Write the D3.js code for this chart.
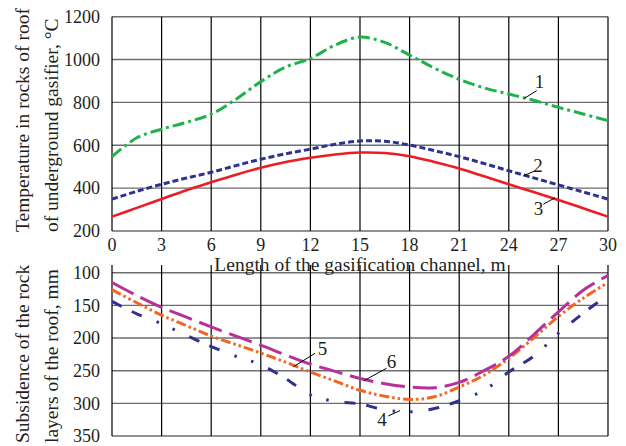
<!DOCTYPE html>
<html>
<head>
<meta charset="utf-8">
<script src="https://cdnjs.cloudflare.com/ajax/libs/d3/7.8.5/d3.min.js"></script>
<style>
  body { margin: 0; background: #fff; }
  svg text { font-family: "Liberation Serif", "Times New Roman", serif; fill: #231f20; }
</style>
</head>
<body>
<div class="chart-container"></div>
<script>
// Data
const xs = [0, 1.5, 3, 4.5, 6, 7.5, 9, 10.5, 12, 13.5, 15, 16.5, 18, 19.5, 21, 22.5, 24, 25.5, 27, 28.5, 30];
const xTicks = [0, 3, 6, 9, 12, 15, 18, 21, 24, 27, 30];

// top panel: temperature, °C
const temp1 = [547, 635, 675, 707, 745, 815, 897, 965, 1005, 1068, 1105, 1080, 1021, 960, 908, 868, 839, 810, 777, 746, 715];
const temp2 = [349, 385, 418, 447, 474, 505, 535, 560, 582, 605, 620, 619, 601, 575, 547, 515, 481, 448, 415, 382, 349];
const temp3 = [267, 308, 349, 390, 427, 463, 495, 522, 542, 557, 566, 564, 549, 522, 492, 455, 418, 382, 345, 306, 267];
const tempTicks = [200, 400, 600, 800, 1000, 1200];

// bottom panel: subsidence, mm
const sub4 = [144, 163, 178, 196, 213, 228, 241, 262, 287, 297, 301, 310, 313, 308, 296, 280, 252, 228, 193, 162, 134];
const sub5 = [126, 146, 165, 181, 197, 210, 223, 237, 252, 266, 280, 289, 294, 290, 275, 257, 231, 200, 167, 139, 115];
const sub6 = [115, 135, 153, 168, 183, 197, 211, 226, 240, 251, 262, 270, 275, 276, 268, 250, 228, 195, 160, 127, 104];
const subTicks = [100, 150, 200, 250, 300, 350];

// curve labels: [label, text x, text y, leader x1, y1, x2, y2] in data units
const topLabels = [
    ['1', 25.85, 867, 24.94, 819, 25.69, 855],
    ['2', 25.77, 477, 24.88, 457, 25.59, 481],
    ['3', 25.8, 275, 26.09, 325, 26.8, 355]
];
const bottomLabels = [
    ['5', 12.73, 226, 10.97, 244, 12.28, 223.4],
    ['6', 16.9, 246.3, 15.24, 265.3, 16.61, 246.3],
    ['4', 16.33, 335, 16.71, 319.3, 17.42, 311.2]
];

const width = 626, height = 446;

const svg = d3.select('.chart-container')
    .append('svg')
    .attr('width', width)
    .attr('height', height);

const xScale = d3.scaleLinear().domain([0, 30]).range([112, 608]);
const yTop = d3.scaleLinear().domain([200, 1200]).range([231, 16.7]);
const yBot = d3.scaleLinear().domain([100, 350]).range([272.7, 436]);

function drawGrid(yScale, ticks, vTop) {
    const g = svg.append('g').attr('class', 'grid');
    g.selectAll('.h')
        .data(ticks)
        .enter()
        .append('line')
        .attr('x1', xScale(0))
        .attr('x2', xScale(30))
        .attr('y1', d => yScale(d))
        .attr('y2', d => yScale(d))
        .style('stroke', '#6d6e71')
        .style('stroke-width', 1.4);
    const yr = yScale.range();
    g.selectAll('.v')
        .data(xTicks)
        .enter()
        .append('line')
        .attr('x1', d => xScale(d))
        .attr('x2', d => xScale(d))
        .attr('y1', vTop !== undefined ? vTop : Math.min(...yr))
        .attr('y2', Math.max(...yr))
        .style('stroke', '#000')
        .style('stroke-width', 1.2);
    g.selectAll('.yl')
        .data(ticks)
        .enter()
        .append('text')
        .attr('x', 100)
        .attr('y', d => yScale(d))
        .attr('dy', '0.35em')
        .attr('text-anchor', 'end')
        .style('font-size', '18px')
        .text(d => d);
}

drawGrid(yTop, tempTicks);
drawGrid(yBot, subTicks, 265);

// x tick labels (between panels)
svg.append('g')
    .selectAll('text')
    .data(xTicks)
    .enter()
    .append('text')
    .attr('x', d => xScale(d))
    .attr('y', 251)
    .attr('text-anchor', 'middle')
    .style('font-size', '18px')
    .text(d => d);

svg.append('text')
    .attr('x', xScale(15))
    .attr('y', 271)
    .attr('text-anchor', 'middle')
    .style('font-size', '19.5px')
    .text('Length of the gasification channel, m');

// axis titles
function yTitle(lines, yStart) {
    lines.forEach((t, i) => {
        svg.append('text')
            .attr('transform', `translate(${29 + i * 29}, ${yStart}) rotate(-90)`)
            .attr('text-anchor', 'start')
            .style('font-size', '19.5px')
            .text(t);
    });
}
yTitle(['Temperature in rocks of roof', 'of underground gasifier, °C'], 232);
yTitle(['Subsidence of the rock', 'layers of the roof, mm'], 443);

// curves
function drawCurve(values, yScale, color, dash, w) {
    const line = d3.line()
        .x((d, i) => xScale(xs[i]))
        .y(d => yScale(d))
        .curve(d3.curveCatmullRom.alpha(0.5));
    svg.append('path')
        .datum(values)
        .attr('d', line)
        .style('fill', 'none')
        .style('stroke', color)
        .style('stroke-width', w)
        .style('stroke-dasharray', dash);
}

drawCurve(temp1, yTop, '#1fb24a', '12,4,3,4', 3);
drawCurve(temp2, yTop, '#2e3192', '6,3', 3);
drawCurve(temp3, yTop, '#ed1c24', null, 2.6);

drawCurve(sub4, yBot, '#2e3192', '11,11,11,16,2.5,15,2.5,16', 3);
drawCurve(sub5, yBot, '#f26522', '10,3,2.5,3,2.5,3', 3);
drawCurve(sub6, yBot, '#b8309a', '24,8', 3);

// labels with leader lines
function drawLabels(labels, yScale) {
    const g = svg.append('g').attr('class', 'labels');
    g.selectAll('line')
        .data(labels)
        .enter()
        .append('line')
        .attr('x1', d => xScale(d[3]))
        .attr('y1', d => yScale(d[4]))
        .attr('x2', d => xScale(d[5]))
        .attr('y2', d => yScale(d[6]))
        .style('stroke', '#000')
        .style('stroke-width', 1);
    g.selectAll('text')
        .data(labels)
        .enter()
        .append('text')
        .attr('x', d => xScale(d[1]))
        .attr('y', d => yScale(d[2]))
        .attr('text-anchor', 'middle')
        .style('font-size', '19px')
        .text(d => d[0]);
}
drawLabels(topLabels, yTop);
drawLabels(bottomLabels, yBot);
</script>
</body>
</html>
